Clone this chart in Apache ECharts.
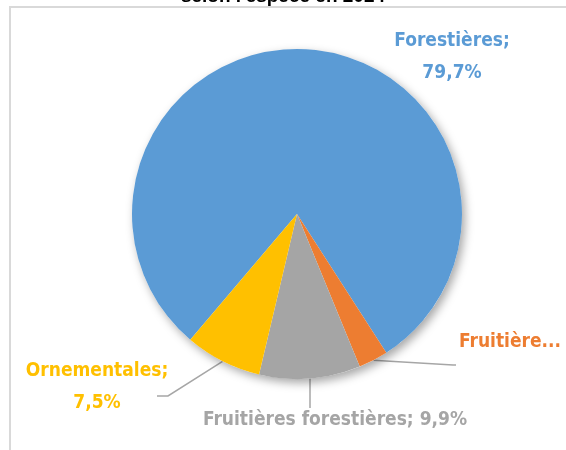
<!DOCTYPE html>
<html>
<head>
<meta charset="utf-8">
<script src="https://cdn.jsdelivr.net/npm/echarts@6/dist/echarts.min.js"></script>
<style>
  html, body { margin: 0; padding: 0; background: #fff; }
  #chart { width: 566px; height: 450px; }
</style>
</head>
<body>
<div id="chart"></div>
<script>
// données : répartition selon l'espèce en 2024 (%)
const categories = ['Forestières', 'Fruitières', 'Fruitières forestières', 'Ornementales']
const shares = [79.7, 2.9, 9.9, 7.5]
const colors = ['#5B9BD5', '#ED7D31', '#A5A5A5', '#FFC000']

// position des étiquettes (style, pas des données)
const labelPos = [
  { x: 452, y: 57, align: 'center', line: null },
  { x: 459, y: 342, align: 'left', line: [[453, 365], [456, 365]] },
  { x: 335, y: 420, align: 'center', line: [[310, 395], [310, 408]] },
  { x: 97, y: 387, align: 'center', line: [[168, 396], [157, 396]] }
]

const font = "'Liberation Sans Narrow', 'DejaVu Sans Condensed', sans-serif"

function fmt (v) {
  return v.toFixed(1).replace('.', ',') + '%'
}

const chart = echarts.init(document.getElementById('chart'), null, { renderer: 'canvas' })

const pieData = categories.map(function (name, i) {
  let label = {
    color: colors[i],
    overflow: 'none',
    width: 400,
    formatter: function (p) {
      // Forestières et Ornementales sur deux lignes
      if (i === 0 || i === 3) return p.name + ';\n' + fmt(p.value)
      return p.name + '; ' + fmt(p.value)
    }
  }
  if (i === 1) {
    label.width = 107
    label.overflow = 'truncate'
  }
  return { name: name, value: shares[i], itemStyle: { color: colors[i] }, label: label }
})

chart.setOption({
  animation: false,
  title: {
    text: "selon l'espèce en 2024",
    left: 'center',
    top: -18,
    textStyle: { fontSize: 19, fontWeight: 'bold', color: '#000', fontFamily: "'Liberation Sans', sans-serif" }
  },
  graphic: [
    {
      type: 'polyline',
      shape: { points: [[10, 450], [10, 7], [566, 7]] },
      style: { stroke: '#d9d9d9', lineWidth: 2, fill: null },
      silent: true
    }
  ],
  series: [
    {
      // ombre du disque
      type: 'pie',
      silent: true,
      center: [297, 214],
      radius: 165,
      label: { show: false },
      labelLine: { show: false },
      data: [{ value: 1, itemStyle: { color: '#fff' } }],
      itemStyle: {
        shadowBlur: 10,
        shadowColor: 'rgba(0,0,0,0.35)',
        shadowOffsetX: 3,
        shadowOffsetY: 4
      }
    },
    {
      type: 'pie',
      center: [297, 214],
      radius: 165,
      startAngle: 229.7,
      clockwise: true,
      itemStyle: { borderWidth: 0 },
      label: {
        show: true,
        position: 'outside',
        fontFamily: font,
        fontWeight: 'bold',
        fontSize: 19,
        lineHeight: 32
      },
      labelLine: {
        show: true,
        lineStyle: { color: '#A6A6A6', width: 1.5 }
      },
      labelLayout: function (params) {
        let pos = labelPos[params.dataIndex]
        let res = {
          x: pos.x,
          y: pos.y,
          align: pos.align,
          verticalAlign: 'middle'
        }
        if (pos.line && params.labelLinePoints) {
          res.labelLinePoints = [params.labelLinePoints[0], pos.line[0], pos.line[1]]
        } else {
          res.labelLinePoints = [[0, 0], [0, 0], [0, 0]]
        }
        return res
      },
      data: pieData
    }
  ]
})
</script>
</body>
</html>
